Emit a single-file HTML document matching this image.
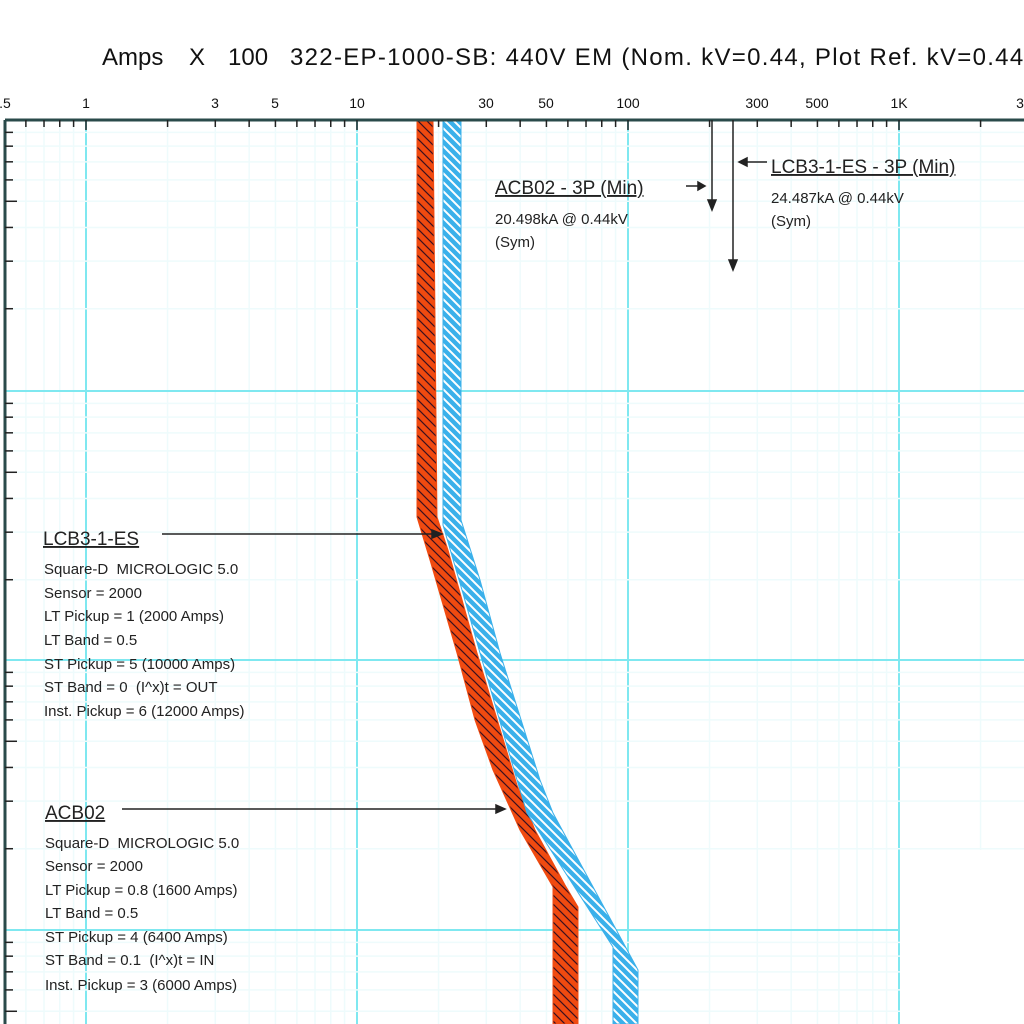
<!DOCTYPE html>
<html><head><meta charset="utf-8"><style>
html,body{margin:0;padding:0;background:#fff;width:1024px;height:1024px;overflow:hidden}
svg{display:block;font-family:"Liberation Sans",sans-serif}
text{white-space:pre}
</style></head><body>
<svg id="s" width="1024" height="1024" viewBox="0 0 1024 1024" xmlns="http://www.w3.org/2000/svg">
<defs>
<pattern id="po" width="9" height="9" patternUnits="userSpaceOnUse">
<rect width="9" height="9" fill="#f04a10"/>
<path d="M-2,-2 L11,11 M-2,7 L2,11 M7,-2 L11,2" stroke="#3a1020" stroke-width="1.2"/>
</pattern>
<pattern id="pb" width="9" height="9" patternUnits="userSpaceOnUse">
<rect width="9" height="9" fill="#3ab0ea"/>
<path d="M-2,-2 L11,11 M-2,7 L2,11 M7,-2 L11,2" stroke="#fff" stroke-width="2"/>
</pattern>
</defs>
<g id="grid"></g>
<rect x="900" y="850" width="124" height="174" fill="#fff"/>
<path d="M417,120 L417,517 L430,560 L457,653 L475,720 L493,770 L520,830 L553,887 L553,1024 L578,1024 L578,907 L565,885 L535,830 L517,785 L477,653 L448,550 L437,517 L433,120 Z" fill="url(#po)" stroke="#f04a10" stroke-width="1"/>
<path d="M443,120 L443,525 L462,590 L480,653 L517,780 L527,813 L613,947 L613,1024 L638,1024 L638,970 L553,813 L540,780 L500,653 L480,580 L461,520 L461,120 Z" fill="url(#pb)" stroke="#3ab0ea" stroke-width="1"/>
<line x1="5" y1="120" x2="1024" y2="120" stroke="#2a4a4a" stroke-width="3"/>
<line x1="5" y1="120" x2="5" y2="1024" stroke="#2a4a4a" stroke-width="3"/>
<g id="ticks" stroke="#222" stroke-width="1.5"></g>
<g font-size="24" fill="#111">
<text x="102" y="65">Amps</text><text x="189" y="65">X</text><text x="228" y="65">100</text>
<text x="290" y="65" letter-spacing="1.3">322-EP-1000-SB: 440V EM (Nom. kV=0.44, Plot Ref. kV=0.44)</text>
</g>
<g font-size="14" fill="#111" text-anchor="middle">
<text x="5" y="108">.5</text><text x="86" y="108">1</text><text x="215" y="108">3</text><text x="275" y="108">5</text><text x="357" y="108">10</text><text x="486" y="108">30</text><text x="546" y="108">50</text><text x="628" y="108">100</text><text x="757" y="108">300</text><text x="817" y="108">500</text><text x="899" y="108">1K</text><text x="1020" y="108">3</text>
</g>
<g stroke="#222" stroke-width="1.5" fill="#222">
<line x1="712" y1="120" x2="712" y2="202"/><path d="M708,200 L716,200 L712,210Z"/>
<line x1="733" y1="120" x2="733" y2="262"/><path d="M729,260 L737,260 L733,270Z"/>
<line x1="686" y1="186" x2="700" y2="186"/><path d="M698,182 L698,190 L705,186Z"/>
<line x1="745" y1="162" x2="767" y2="162"/><path d="M747,158 L747,166 L739,162Z"/>
<line x1="162" y1="534" x2="432" y2="534"/><path d="M432,530 L432,538 L442,534Z"/>
<line x1="122" y1="809" x2="496" y2="809"/><path d="M496,805 L496,813 L505,809Z"/>
</g>
<g fill="#222" font-size="19" text-decoration="underline">
<text x="495" y="194">ACB02 - 3P (Min)</text>
<text x="771" y="173">LCB3-1-ES - 3P (Min)</text>
<text x="43" y="545">LCB3-1-ES</text>
<text x="45" y="819">ACB02</text>
</g>
<g fill="#222" font-size="15">
<text x="495" y="224">20.498kA @ 0.44kV</text><text x="495" y="247">(Sym)</text>
<text x="771" y="203">24.487kA @ 0.44kV</text><text x="771" y="226">(Sym)</text>
<text x="44" y="574">Square-D  MICROLOGIC 5.0</text>
<text x="44" y="598">Sensor = 2000</text>
<text x="44" y="621">LT Pickup = 1 (2000 Amps)</text>
<text x="44" y="645">LT Band = 0.5</text>
<text x="44" y="669">ST Pickup = 5 (10000 Amps)</text>
<text x="44" y="692">ST Band = 0  (I^x)t = OUT</text>
<text x="44" y="716">Inst. Pickup = 6 (12000 Amps)</text>
<text x="45" y="848">Square-D  MICROLOGIC 5.0</text>
<text x="45" y="871">Sensor = 2000</text>
<text x="45" y="895">LT Pickup = 0.8 (1600 Amps)</text>
<text x="45" y="918">LT Band = 0.5</text>
<text x="45" y="942">ST Pickup = 4 (6400 Amps)</text>
<text x="45" y="965">ST Band = 0.1  (I^x)t = IN</text>
<text x="45" y="990">Inst. Pickup = 3 (6000 Amps)</text>
</g>
</svg>
<script>
var NS="http://www.w3.org/2000/svg",g=document.getElementById("grid"),t=document.getElementById("ticks");
function L(p,x1,y1,x2,y2,c,w){var l=document.createElementNS(NS,"line");l.setAttribute("x1",x1);l.setAttribute("y1",y1);l.setAttribute("x2",x2);l.setAttribute("y2",y2);if(c){l.setAttribute("stroke",c);l.setAttribute("stroke-width",w);}p.appendChild(l);}
var D=271;
[-1,0,1,2,3].forEach(function(d){var b=86+d*D;
 for(var k=1;k<10;k++){var x=b+D*Math.log10(k);if(x<5||x>1024)continue;
  if(k==1){L(g,x,120,x,1024,"#7fe8f0",2);L(t,x,120,x,130);}
  else{L(g,x,120,x,1024,"#eefbfc",1.5);L(t,x,120,x,127);}}});
[120,391,660,930].forEach(function(Y){
 if(Y>120)L(g,5,Y,1024,Y,"#7fe8f0",2);
 for(var k=2;k<10;k++){var y=Y+270*(1-Math.log10(k));if(y>1024)continue;
  L(g,5,y,1024,y,"#eefbfc",1.5);L(t,5,y,k==5?17:13,y);}});
</script>
</body></html>
